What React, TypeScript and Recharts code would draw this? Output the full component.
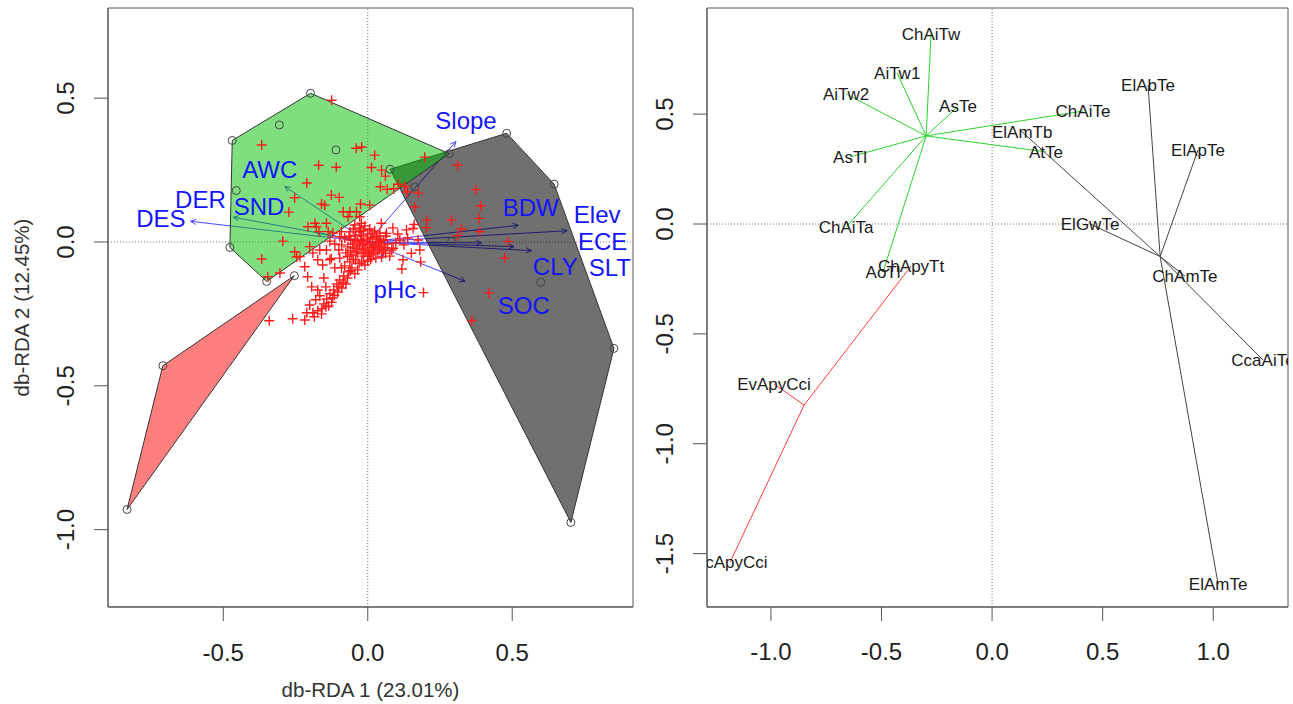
import { ReferenceArea, ReferenceLine, Scatter, ScatterChart, XAxis, YAxis } from 'recharts';

type Pt = { x: number; y: number };
type Named = { name: string; x: number; y: number };

// ---------- left panel: db-RDA site scores ----------
const leftXDomain: [number, number] = [-0.899, 0.918];
const leftYDomain: [number, number] = [-1.269, 0.8135];
const leftXTicks = [-0.5, 0, 0.5];
const leftYTicks = [-1, -0.5, 0, 0.5];

const hullGrey: Pt[] = [
  { x: 0.077, y: 0.253 }, { x: 0.481, y: 0.378 }, { x: 0.645, y: 0.201 },
  { x: 0.852, y: -0.37 }, { x: 0.703, y: -0.975 }, { x: 0.077, y: 0.253 },
];
const hullGreen: Pt[] = [
  { x: -0.198, y: 0.517 }, { x: 0.282, y: 0.307 }, { x: -0.35, y: -0.137 },
  { x: -0.477, y: -0.019 }, { x: -0.469, y: 0.353 }, { x: -0.198, y: 0.517 },
];
const hullRed: Pt[] = [
  { x: -0.254, y: -0.117 }, { x: -0.709, y: -0.43 }, { x: -0.833, y: -0.93 }, { x: -0.254, y: -0.117 },
];

const siteCircles: Pt[] = [
  { x: -0.198, y: 0.517 }, { x: 0.282, y: 0.307 }, { x: -0.35, y: -0.137 }, { x: -0.477, y: -0.019 },
  { x: -0.469, y: 0.353 }, { x: -0.306, y: 0.407 }, { x: -0.455, y: 0.179 }, { x: -0.11, y: 0.32 },
  { x: 0.077, y: 0.253 }, { x: 0.481, y: 0.378 }, { x: 0.645, y: 0.201 }, { x: 0.852, y: -0.37 },
  { x: 0.703, y: -0.975 }, { x: 0.163, y: 0.191 }, { x: 0.29, y: 0.002 }, { x: 0.599, y: -0.14 },
  { x: -0.254, y: -0.117 }, { x: -0.709, y: -0.43 }, { x: -0.833, y: -0.93 },
];

const samplePlus: [number, number][] = [
  [-0.045, 0.059], [-0.028, 0.049], [-0.01, 0.056], [0.007, 0.045], [0.024, 0.038], [0.042, 0.031],
  [-0.062, 0.035], [-0.042, 0.024], [-0.021, 0.021], [0.0, 0.028], [0.017, 0.017], [0.035, 0.01],
  [0.055, 0.007], [-0.08, 0.014], [-0.059, 0.007], [-0.035, 0.0], [-0.014, 0.003], [0.007, -0.003],
  [0.028, -0.007], [0.048, -0.014], [0.069, -0.007], [-0.09, -0.01], [-0.069, -0.017], [-0.048, -0.021],
  [-0.028, -0.014], [-0.007, -0.021], [0.014, -0.028], [0.035, -0.035], [0.055, -0.031], [0.083, -0.028],
  [-0.076, -0.038], [-0.055, -0.045], [-0.035, -0.038], [-0.014, -0.049], [0.007, -0.045], [0.028, -0.056],
  [0.048, -0.052], [-0.097, -0.056], [-0.062, -0.069], [-0.042, -0.062], [-0.021, -0.069], [0.0, -0.066],
  [-0.08, -0.083], [-0.055, -0.09], [-0.035, -0.097], [-0.014, -0.028], [-0.003, 0.01], [-0.024, 0.038],
  [0.01, 0.014], [0.021, -0.014], [0.003, -0.035], [-0.038, -0.024], [-0.052, -0.007], [-0.017, -0.007],
  [0.038, 0.0], [0.062, 0.021], [0.076, -0.049], [0.097, -0.003], [0.111, 0.007], [0.125, -0.01],
  [0.138, 0.014], [0.104, 0.028], [0.087, 0.049], [-0.1, -0.028], [-0.114, -0.007], [-0.131, 0.003],
  [-0.05, 0.045], [-0.03, 0.035], [-0.015, 0.04], [0.015, 0.03], [0.03, 0.02], [0.045, 0.005],
  [-0.065, 0.02], [-0.045, 0.01], [-0.025, 0.005], [0.0, -0.01], [0.02, -0.02], [0.04, -0.025],
  [0.06, -0.02], [-0.06, -0.03], [-0.04, -0.035], [-0.02, -0.04], [0.0, -0.05], [0.02, -0.04],
  [-0.07, -0.05], [-0.05, -0.06], [-0.03, -0.075], [-0.01, -0.08], [0.01, -0.06], [-0.06, -0.1],
  [-0.045, -0.11],
  [-0.066, -0.104], [-0.083, -0.118], [-0.097, -0.132], [-0.107, -0.146], [-0.09, -0.16], [-0.118, -0.167],
  [-0.131, -0.18], [-0.121, -0.194], [-0.142, -0.198], [-0.152, -0.215], [-0.135, -0.222], [-0.159, -0.232],
  [-0.173, -0.239], [-0.19, -0.246], [-0.211, -0.246], [-0.201, -0.219], [-0.18, -0.201], [-0.166, -0.187],
  [-0.104, -0.174], [-0.076, -0.146], [-0.145, -0.156], [-0.173, -0.167], [-0.194, -0.156], [-0.208, -0.121],
  [-0.152, -0.125], [-0.07, -0.125], [-0.085, -0.14], [-0.1, -0.155], [-0.115, -0.185], [-0.125, -0.21],
  [-0.145, -0.225], [-0.16, -0.25], [-0.185, -0.26],
  [-0.367, 0.337], [-0.125, 0.493], [-0.211, 0.205], [-0.253, 0.154], [-0.273, 0.104], [-0.294, 0.003],
  [-0.367, -0.059], [-0.346, -0.121], [-0.246, -0.052], [-0.341, -0.274], [-0.26, -0.267], [-0.218, -0.271],
  [-0.17, 0.267], [-0.109, 0.26], [-0.04, 0.326], [-0.021, 0.33], [0.024, 0.302], [0.048, 0.25],
  [0.061, 0.229], [0.09, 0.185], [0.197, 0.295], [0.311, 0.267], [0.374, 0.182], [0.391, 0.125],
  [0.474, -0.056], [0.419, -0.177], [0.36, -0.273], [0.193, -0.176], [0.118, -0.094], [0.183, -0.069],
  [0.325, 0.045], [0.311, 0.022], [0.161, 0.061], [0.204, 0.076], [0.175, 0.17], [0.013, 0.259],
  [0.044, 0.192], [0.067, 0.183], [0.105, 0.201], [0.128, 0.194], [0.137, 0.174], [0.203, 0.05],
  [0.163, 0.122], [-0.126, 0.163], [-0.099, 0.155], [-0.16, 0.132], [-0.062, 0.105], [-0.039, 0.105],
  [-0.025, 0.132], [-0.068, 0.088], [0.007, 0.128], [0.29, 0.076], [0.385, 0.082], [0.388, 0.036],
  [-0.207, 0.053], [-0.178, 0.053], [-0.143, 0.065], [-0.169, 0.036], [-0.121, 0.031], [-0.091, 0.036],
  [-0.253, -0.034], [-0.166, -0.028], [-0.19, -0.038], [-0.126, -0.057], [-0.218, -0.086], [-0.156, -0.08],
  [-0.114, -0.09], [-0.091, -0.09], [0.122, -0.062], [0.151, -0.039], [0.088, -0.022], [0.062, -0.039],
  [-0.304, -0.108], [-0.235, -0.051], [-0.149, 0.128], [-0.085, 0.105], [-0.028, 0.088], [-0.022, 0.065],
  [-0.183, 0.065], [-0.137, 0.036], [-0.097, 0.018], [-0.201, -0.016], [-0.143, -0.028], [-0.173, -0.062],
  [-0.131, -0.062], [0.065, 0.03], [0.047, 0.065], [0.174, 0.007], [0.157, 0.047], [0.134, 0.042],
  [0.18, -0.028], [0.486, 0.002],
];

// environmental vectors (arrow tips) and their label positions
const envArrows: Named[] = [
  { name: 'Slope', x: 0.305, y: 0.349 }, { name: 'AWC', x: -0.287, y: 0.193 },
  { name: 'DER', x: -0.465, y: 0.086 }, { name: 'DES', x: -0.613, y: 0.072 },
  { name: 'SND', x: -0.176, y: 0.031 }, { name: 'BDW', x: 0.521, y: 0.058 },
  { name: 'Elev', x: 0.69, y: 0.039 }, { name: 'ECE', x: 0.394, y: -0.003 },
  { name: 'CLY', x: 0.567, y: -0.03 }, { name: 'SLT', x: 0.506, y: -0.016 },
  { name: 'SOC', x: 0.337, y: -0.137 }, { name: 'pHc', x: 0.054, y: -0.056 },
];
const envLabels: Named[] = [
  { name: 'Slope', x: 0.34, y: 0.421 }, { name: 'AWC', x: -0.339, y: 0.251 },
  { name: 'DER', x: -0.579, y: 0.147 }, { name: 'DES', x: -0.716, y: 0.083 },
  { name: 'SND', x: -0.376, y: 0.124 }, { name: 'BDW', x: 0.564, y: 0.118 },
  { name: 'Elev', x: 0.794, y: 0.095 }, { name: 'ECE', x: 0.813, y: 0.002 },
  { name: 'CLY', x: 0.649, y: -0.085 }, { name: 'SLT', x: 0.838, y: -0.089 },
  { name: 'SOC', x: 0.54, y: -0.22 }, { name: 'pHc', x: 0.094, y: -0.166 },
];

// ---------- right panel: species spiders ----------
const rightXDomain: [number, number] = [-1.289, 1.338];
const rightYDomain: [number, number] = [-1.743, 0.983];
const rightXTicks = [-1, -0.5, 0, 0.5, 1];
const rightYTicks = [-1.5, -1, -0.5, 0, 0.5];

const greenCentre: Pt = { x: -0.298, y: 0.401 };
const greenSpecies: Named[] = [
  { name: 'ChAiTw', x: -0.276, y: 0.865 }, { name: 'AiTw1', x: -0.429, y: 0.687 },
  { name: 'AiTw2', x: -0.66, y: 0.592 }, { name: 'AsTe', x: -0.154, y: 0.535 },
  { name: 'AsTl', x: -0.642, y: 0.305 }, { name: 'ChAiTa', x: -0.66, y: -0.014 },
  { name: 'AoTl', x: -0.493, y: -0.218 }, { name: 'ChAiTe', x: 0.411, y: 0.514 },
  { name: 'AtTe', x: 0.244, y: 0.328 },
];
const blackCentre: Pt = { x: 0.76, y: -0.148 };
const blackSpecies: Named[] = [
  { name: 'ElAmTb', x: 0.136, y: 0.419 }, { name: 'ElAbTe', x: 0.705, y: 0.633 },
  { name: 'ElApTe', x: 0.931, y: 0.337 }, { name: 'ElGwTe', x: 0.443, y: 0.0 },
  { name: 'CcaAiTe', x: 1.225, y: -0.619 }, { name: 'ChAmTe', x: 0.872, y: -0.237 },
  { name: 'ElAmTe', x: 1.022, y: -1.639 },
];
const redCentre: Pt = { x: -0.85, y: -0.824 };
const redSpecies: Named[] = [
  { name: 'ChApyTt', x: -0.366, y: -0.191 }, { name: 'EvApyCci', x: -0.986, y: -0.728 },
  { name: 'CcApyCci', x: -1.184, y: -1.538 },
];

const FONT = '"Liberation Sans", Arial, Helvetica, sans-serif';
const FRAME = '#555';
const ARROW = '#4646ff';
const fmt = (v: number) => v.toFixed(1);

const noShape = () => <g />;

const plusShape = (p: any) => (
  <path d={`M${p.cx - 5},${p.cy}h10M${p.cx},${p.cy - 5}v10`} stroke="#ff1a1a" strokeWidth={1.4} fill="none" />
);
const circleShape = (p: any) => <circle cx={p.cx} cy={p.cy} r={4} fill="none" stroke="#444" strokeWidth={1} />;
const blueText = (p: any) => (
  <text x={p.cx} y={p.cy} textAnchor="middle" dy="0.35em" fontSize={24} fill="#1414ff" fontFamily={FONT}>
    {p.payload.name}
  </text>
);
const speciesText = (p: any) => (
  <text x={p.cx} y={p.cy} textAnchor="middle" dy="0.35em" fontSize={17} fill="#1a1a1a" fontFamily={FONT}>
    {p.payload.name}
  </text>
);

function Arrow(props: any) {
  const { x1, y1, x2, y2 } = props;
  const a = Math.atan2(y2 - y1, x2 - x1);
  const len = 6;
  const w = 0.45;
  const ax = x2 - len * Math.cos(a - w);
  const ay = y2 - len * Math.sin(a - w);
  const bx = x2 - len * Math.cos(a + w);
  const by = y2 - len * Math.sin(a + w);
  return (
    <g>
      <line x1={x1} y1={y1} x2={x2} y2={y2} stroke={ARROW} strokeWidth={1} />
      <path d={`M${ax},${ay}L${x2},${y2}L${bx},${by}`} stroke={ARROW} strokeWidth={1} fill="none" />
    </g>
  );
}

function RotTick(props: any) {
  const { x, y, payload } = props;
  return (
    <text x={x} y={y} transform={`rotate(-90 ${x} ${y})`} textAnchor="middle" dy="0.35em" fontSize={24} fill="#222" fontFamily={FONT}>
      {fmt(Number(payload.value))}
    </text>
  );
}

function LeftPanel() {
  return (
    <ScatterChart width={650} height={704} margin={{ top: 8, right: 17, bottom: 0, left: 0 }}>
      <XAxis type="number" dataKey="x" domain={leftXDomain} ticks={leftXTicks} allowDataOverflow height={97}
        tickSize={14} tickMargin={23} tick={{ fill: '#222', fontSize: 24, fontFamily: FONT }} tickFormatter={fmt} stroke={FRAME}
        label={{ value: 'db-RDA 1 (23.01%)', position: 'insideBottom', offset: 7, fill: '#333', fontSize: 20.5, fontFamily: FONT }} />
      <YAxis type="number" dataKey="y" domain={leftYDomain} ticks={leftYTicks} allowDataOverflow width={108}
        tickSize={14} tickMargin={28} tick={RotTick} stroke={FRAME}
        label={{ value: 'db-RDA 2 (12.45%)', angle: -90, position: 'insideLeft', offset: 22, fill: '#333', fontSize: 20.5, fontFamily: FONT, style: { textAnchor: 'middle' } }} />
      <ReferenceArea x1={leftXDomain[0]} x2={leftXDomain[1]} y1={leftYDomain[0]} y2={leftYDomain[1]} fill="none" stroke={FRAME} strokeWidth={1} />
      <ReferenceLine x={0} stroke="#777" strokeDasharray="1 2" />
      <ReferenceLine y={0} stroke="#777" strokeDasharray="1 2" />
      <Scatter data={hullGrey} line={{ stroke: '#333', strokeWidth: 1, fill: '#000', fillOpacity: 0.56 }} shape={noShape} isAnimationActive={false} />
      <Scatter data={hullGreen} line={{ stroke: '#333', strokeWidth: 1, fill: '#00c000', fillOpacity: 0.5 }} shape={noShape} isAnimationActive={false} />
      <Scatter data={hullRed} line={{ stroke: '#333', strokeWidth: 1, fill: '#ff0000', fillOpacity: 0.5 }} shape={noShape} isAnimationActive={false} />
      <Scatter data={siteCircles} shape={circleShape} isAnimationActive={false} />
      <Scatter data={samplePlus.map(([x, y]) => ({ x, y }))} shape={plusShape} isAnimationActive={false} />
      {envArrows.map((a) => (
        <ReferenceLine key={a.name} segment={[{ x: 0, y: 0 }, { x: a.x, y: a.y }]} shape={(p: any) => <Arrow {...p} />} ifOverflow="visible" />
      ))}
      <Scatter data={envLabels} shape={blueText} isAnimationActive={false} />
    </ScatterChart>
  );
}

function RightPanel() {
  const groups = [
    { centre: greenCentre, leaves: greenSpecies, color: '#2cd42c' },
    { centre: blackCentre, leaves: blackSpecies, color: '#444' },
    { centre: redCentre, leaves: redSpecies, color: '#ff3b3b' },
  ];
  return (
    <ScatterChart width={650} height={704} margin={{ top: 8, right: 5, bottom: 0, left: 0 }}>
      <XAxis type="number" dataKey="x" domain={rightXDomain} ticks={rightXTicks} allowDataOverflow height={97}
        tickSize={14} tickMargin={22} tick={{ fill: '#222', fontSize: 24, fontFamily: FONT }} tickFormatter={fmt} stroke={FRAME} />
      <YAxis type="number" dataKey="y" domain={rightYDomain} ticks={rightYTicks} allowDataOverflow width={64}
        tickSize={14} tickMargin={28} tick={RotTick} stroke={FRAME} />
      <ReferenceArea x1={rightXDomain[0]} x2={rightXDomain[1]} y1={rightYDomain[0]} y2={rightYDomain[1]} fill="none" stroke={FRAME} strokeWidth={1} />
      <ReferenceLine x={0} stroke="#777" strokeDasharray="1 2" />
      <ReferenceLine y={0} stroke="#777" strokeDasharray="1 2" />
      {groups.map((g) =>
        g.leaves.map((s) => (
          <ReferenceLine key={s.name} segment={[g.centre, { x: s.x, y: s.y }]} stroke={g.color} strokeWidth={1} ifOverflow="visible" />
        )),
      )}
      <Scatter data={[...greenSpecies, ...blackSpecies, ...redSpecies]} shape={speciesText} isAnimationActive={false} />
    </ScatterChart>
  );
}

export default function App() {
  return (
    <div style={{ position: 'absolute', left: 0, top: 0, width: 1293, height: 704, background: '#fff', fontFamily: FONT }}>
      <div style={{ position: 'absolute', left: 0, top: 0 }}>
        <LeftPanel />
      </div>
      <div style={{ position: 'absolute', left: 643, top: 0 }}>
        <RightPanel />
      </div>
    </div>
  );
}
